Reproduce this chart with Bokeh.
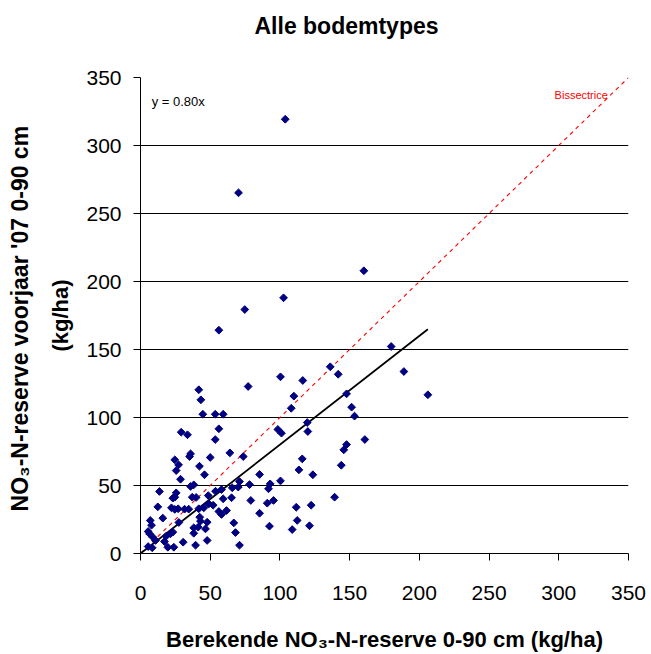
from bokeh.plotting import figure
from bokeh.models import Title, Label, FixedTicker, Range1d
from bokeh.embed import file_html
from bokeh.resources import INLINE

# Berekende NO3-N-reserve (kg/ha) vs gemeten voorjaar '07 (kg/ha)
calc_n = [41.8, 77.2, 43.3, 44.7, 53.6, 59.3, 29.2, 33.7, 56.2, 53.6, 35.9, 35.2, 24.6, 27.3, 25.6,
          42.3, 50.0, 64.1, 73.7, 45.9, 28.7, 35.9, 38.2, 13.6, 25.6, 24.6, 23.2, 37.1, 39.9, 48.6,
          53.8, 58.1, 65.8, 70.1, 78.2, 59.3, 65.3, 79.1, 52.1, 12.4, 22.2, 24.6, 27.0, 31.6, 34.6,
          41.8, 45.4, 56.2, 58.1, 61.7, 16.0, 7.0, 7.9, 42.5, 43.0, 47.8, 66.9, 27.5, 38.2, 41.4,
          46.6, 5.5, 6.5, 8.8, 10.8, 21.5, 23.2, 18.4, 38.2, 68.1, 30.6, 47.8, 17.2, 5.5, 8.4,
          19.6, 23.9, 39.5, 71.0, 71.0, 49.0,
          100.4, 116.4, 141.8, 110.0, 108.1, 147.8, 151.4, 153.5, 119.6, 120.0, 98.5, 101.1, 160.9,
          147.8, 145.8, 116.0, 113.6, 144.0, 123.6, 85.4, 100.4, 93.0, 91.8, 90.9, 95.4, 85.4,
          111.7, 122.4, 139.2, 112.4, 92.5, 108.8, 121.2,
          179.8, 188.9, 206.1,
          103.8, 70.3, 160.2, 102.6, 74.8, 56.2, 136.1]
spring_n = [120.4, 122.8, 113.0, 102.4, 102.4, 102.4, 89.2, 87.3, 91.7, 83.8, 73.3, 71.3, 68.9, 65.2, 61.0,
            64.2, 70.6, 74.0, 71.3, 57.9, 54.6, 49.3, 50.5, 45.6, 44.6, 41.4, 40.7, 41.4, 41.2, 42.6,
            45.8, 47.0, 48.3, 48.8, 50.7, 40.2, 41.0, 39.0, 35.5, 34.3, 33.6, 32.4, 32.9, 32.6, 32.6,
            32.9, 33.6, 30.9, 28.7, 31.6, 26.0, 24.3, 20.8, 26.7, 23.8, 23.0, 22.5, 22.8, 18.9, 19.4,
            18.1, 16.2, 14.5, 12.0, 9.6, 14.5, 15.7, 12.7, 14.9, 15.4, 8.3, 9.6, 8.8, 5.1, 4.2,
            4.6, 4.6, 6.1, 6.1, 52.9, 36.5,
            129.9, 127.2, 131.8, 115.7, 106.8, 117.4, 107.6, 101.0, 96.3, 89.7, 91.2, 88.5, 83.8,
            80.1, 76.2, 69.6, 61.5, 64.9, 57.9, 58.1, 53.4, 51.2, 47.6, 37.0, 39.0, 29.6,
            34.0, 35.5, 41.4, 24.3, 20.1, 17.6, 20.4,
            152.2, 133.8, 116.7,
            319.3, 265.2, 207.9, 188.0, 179.4, 164.2, 137.3]
slope = 0.80
axis_ticks = [0, 50, 100, 150, 200, 250, 300, 350]
axis_max = 350

FONT = "Liberation Sans"

p = figure(width=651, height=654, x_range=Range1d(0, axis_max), y_range=Range1d(0, axis_max),
           output_backend="svg", toolbar_location=None,
           min_border_left=140, min_border_right=23, min_border_top=77, min_border_bottom=101)
p.title = None
p.outline_line_color = None
p.background_fill_color = "white"
p.border_fill_color = "white"

# spacer panel between frame and chart title, then the title itself (outermost)
p.add_layout(Title(text="\u00a0", text_font_size="2px", standoff=33), "above")
p.add_layout(Title(text="Alle bodemtypes", align="left", offset=114, text_font=FONT,
                   text_font_size="23px", text_font_style="bold", text_color="black",
                   standoff=4), "above")

for ax in (p.xaxis[0], p.yaxis[0]):
    ax.ticker = FixedTicker(ticks=axis_ticks)
    ax.minor_tick_line_color = None
    ax.major_tick_in = 0
    ax.major_tick_out = 7
    ax.axis_line_color = "black"
    ax.major_tick_line_color = "black"
    ax.major_label_text_font = FONT
    ax.major_label_text_font_size = "21px"
    ax.major_label_text_color = "black"

p.xaxis.major_label_standoff = 25
p.yaxis.major_label_standoff = 12

p.xaxis.axis_label = "Berekende NO\u2083-N-reserve 0-90 cm (kg/ha)"
p.xaxis.axis_label_text_font = FONT
p.xaxis.axis_label_text_font_size = "22px"
p.xaxis.axis_label_text_font_style = "bold"
p.xaxis.axis_label_text_color = "black"
p.xaxis.axis_label_standoff = 24

p.add_layout(Title(text="(kg/ha)", align="center", text_font=FONT, text_font_size="22px",
                   text_font_style="bold", text_color="black", standoff=22), "left")
p.add_layout(Title(text="NO\u2083-N-reserve voorjaar '07  0-90 cm", align="center", text_font=FONT,
                   text_font_size="23px", text_font_style="bold", text_color="black", standoff=4), "left")

p.xgrid.visible = False
p.ygrid.ticker = FixedTicker(ticks=axis_ticks)
p.ygrid.grid_line_color = "black"
p.ygrid.grid_line_width = 1

# bisectrice y = x
p.line([0, axis_max], [0, axis_max], color="#FF0000", line_dash="4 4", line_width=1.1)
# trendline y = 0.80x
max_x = max(calc_n)
p.line([0, max_x], [0, slope * max_x], color="black", line_width=1.8)

p.scatter(calc_n, spring_n, marker="square", angle=0.785398, size=5.5, color="#000080")

p.add_layout(Label(x=8, y=332, text="y = 0.80x", text_font=FONT, text_font_size="13px",
                   text_baseline="middle", text_color="black"))
p.add_layout(Label(x=297, y=337, text="Bissectrice", text_font=FONT, text_font_size="11px",
                   text_baseline="middle", text_color="#FF0000"))

open("out.html", "w").write(file_html(p, INLINE))
